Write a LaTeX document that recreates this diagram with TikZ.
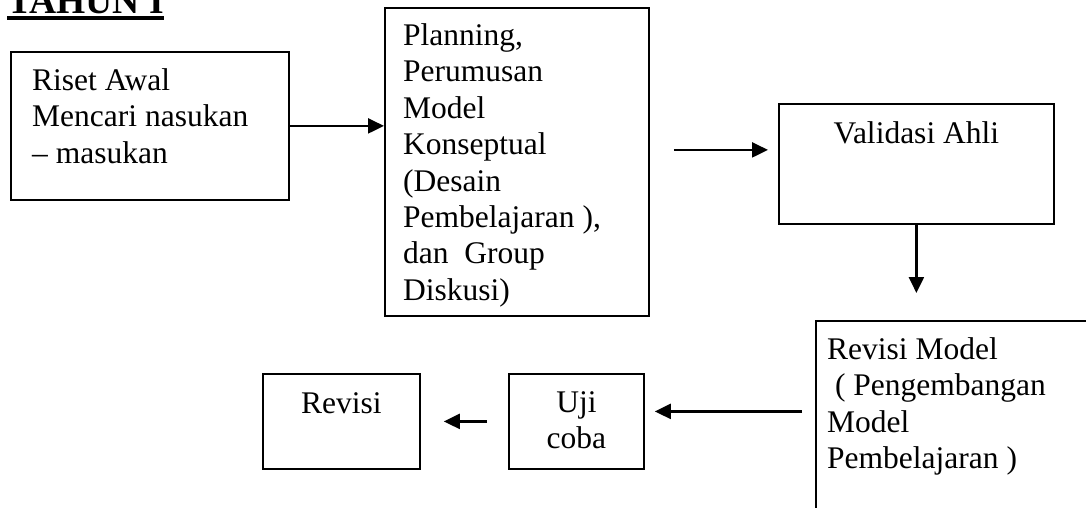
\documentclass[tikz,border=0pt]{standalone}
\usepackage{fontspec}
\setmainfont{Liberation Serif}
\usetikzlibrary{arrows.meta}
\newcommand{\garisbawah}[1]{\setbox0\hbox{#1}\rlap{\copy0}\rule[-6.5pt]{\wd0}{4.2pt}}

\begin{document}
\begin{tikzpicture}[x=1pt,y=-1pt,
            main box/.style={draw, line width=1.8pt, anchor=north west, inner sep=0pt},
            box text/.style={anchor=north west, inner sep=0pt, align=left, font=\fontsize{31.5}{36.4}\selectfont},
            arrow line/.style={line width=2.3pt, -{Triangle[length=16pt,width=15pt]}},
            ]
            \useasboundingbox (0,0) rectangle (1086,507);

            \node[anchor=base west, inner sep=0pt, font=\fontsize{37.5}{40}\selectfont\bfseries] (judul) at (7,13.5) {\garisbawah{TAHUN I}};

            \node[main box, minimum width=278pt, minimum height=148pt] (riset) at (10,51) {};
            \node[main box, minimum width=264pt, minimum height=308pt] (planning) at (384,7) {};
            \node[main box, minimum width=275pt, minimum height=120pt] (validasi) at (778,103) {};
            \node[main box, minimum width=300pt, minimum height=220pt] (revmodel) at (815,320) {};
            \node[main box, minimum width=157pt, minimum height=95pt] (revisi) at (262,373) {};
            \node[main box, minimum width=135pt, minimum height=95pt] (ujicoba) at (508,373) {};

            \node[box text] (riset text) at ([shift={(22,17.5)}]riset.north west) {Riset Awal\\Mencari nasukan\\-- masukan};
            \node[box text] (planning text) at ([shift={(19,16.5)}]planning.north west) {Planning,\\Perumusan\\Model\\Konseptual\\(Desain\\Pembelajaran ),\\dan\ \ Group\\Diskusi)};
            \node[box text, anchor=base] (validasi text) at ([yshift=-40pt]validasi.north) {Validasi Ahli};
            \node[box text] (revmodel text) at ([shift={(12,17.5)}]revmodel.north west) {Revisi Model\\\ ( Pengembangan\\Model\\Pembelajaran )};
            \node[box text, anchor=base] (revisi text) at ([yshift=-40pt]revisi.north) {Revisi};
            \node[box text, anchor=north, align=center] (ujicoba text) at ([yshift=-18.5pt]ujicoba.north) {Uji\\coba};

            \draw[arrow line] (riset.east) -- (riset.east -| planning.west);
            \draw[arrow line, shorten <=24pt, shorten >=10pt] ([yshift=14pt]planning.east |- validasi.west) -- ([yshift=14pt]validasi.west);
            \draw[arrow line, shorten >=27pt] (validasi.south) -- (validasi.south |- revmodel.north);
            \draw[arrow line, shorten <=13pt, shorten >=10pt] ([yshift=10pt]revmodel.west |- ujicoba.east) -- ([yshift=10pt]ujicoba.east);
            \draw[arrow line, shorten <=21pt, shorten >=23pt] (ujicoba.west) -- (revisi.east);
        \end{tikzpicture}
\end{document}
